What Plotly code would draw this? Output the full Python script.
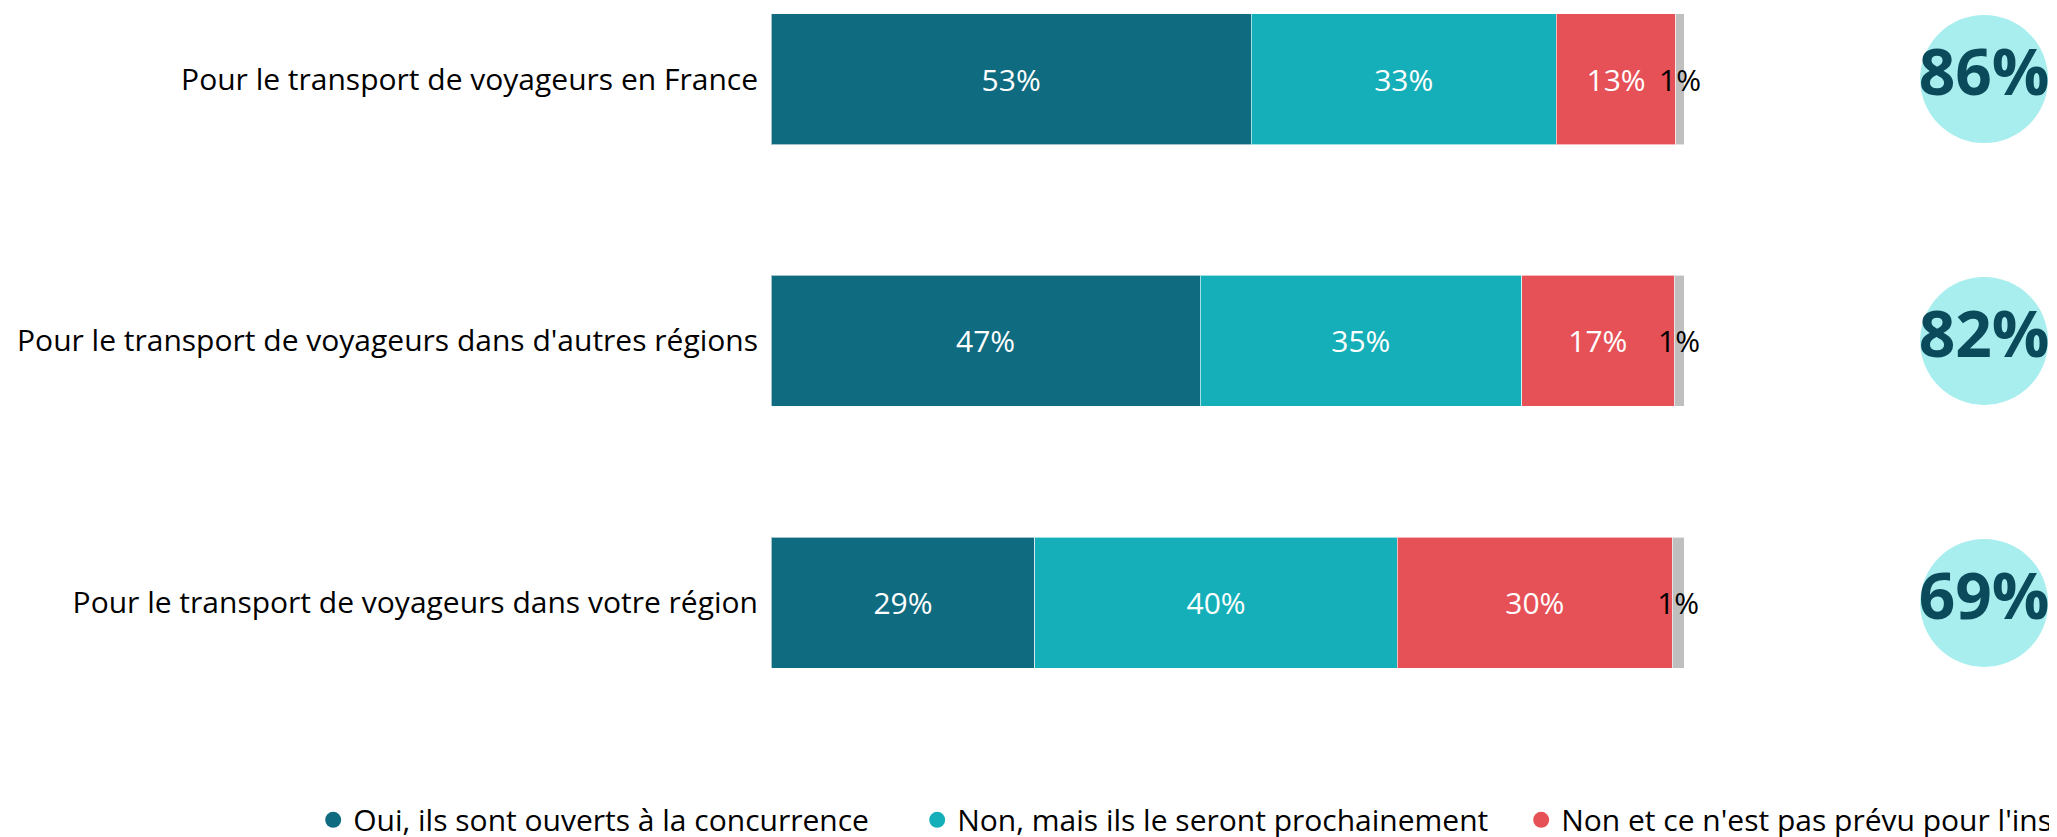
import plotly.graph_objects as go

categories = [
    "Pour le transport de voyageurs en France",
    "Pour le transport de voyageurs dans d'autres régions",
    "Pour le transport de voyageurs dans votre région",
]
series_names = [
    "Oui, ils sont ouverts à la concurrence",
    "Non, mais ils le seront prochainement",
    "Non et ce n'est pas prévu pour l'instant",
    "Ne sait pas",
]
oui = [52.6, 47.0, 28.9]
non_prochainement = [33.4, 35.2, 39.7]
non_pas_prevu = [13.1, 16.7, 30.1]
nsp = [0.9, 1.1, 1.3]
totals = [86, 82, 69]

colors = ["#0F6B80", "#14AFB8", "#E65158", "#BFBFBF"]
text_colors = ["white", "white", "white", "black"]
FONT = "Open Sans"

fig = go.Figure()
for name, vals, col, tcol in zip(series_names, [oui, non_prochainement, non_pas_prevu, nsp], colors, text_colors):
    fig.add_trace(go.Bar(
        y=categories, x=vals, orientation="h", name=name,
        marker=dict(color=col, line=dict(color="rgba(255,255,255,0.6)", width=1)),
        text=[f"{round(v)}%" for v in vals], textposition="inside", insidetextanchor="middle",
        textangle=0, textfont=dict(color=tcol, size=30, family=FONT),
        width=0.5, showlegend=False, hoverinfo="skip", cliponaxis=False,
        xaxis="x", yaxis="y",
    ))

# legend-only entries (circle symbols)
for name, col in zip(series_names[:3], colors[:3]):
    fig.add_trace(go.Scatter(
        x=[None], y=[None], mode="markers", name=name,
        marker=dict(color=col, size=16, symbol="circle"),
        showlegend=True, xaxis="x", yaxis="y",
    ))

fig.add_trace(go.Scatter(
    x=[0] * len(totals), y=categories, mode="markers+text",
    marker=dict(size=128, color="#A8EEEE", line=dict(width=0)),
    text=[f"{t}%" for t in totals], textposition="middle center",
    textfont=dict(size=64, color="#0B4A5A", family=FONT, weight="bold"),
    showlegend=False, hoverinfo="skip", xaxis="x2", yaxis="y", cliponaxis=False,
))

fig.update_layout(
    width=2049, height=829,
    barmode="stack",
    plot_bgcolor="white", paper_bgcolor="white",
    margin=dict(l=763, r=0, t=0, b=97, autoexpand=False),
    font=dict(family=FONT, size=30, color="black"),
    uniformtext=dict(minsize=30, mode="show"),
    xaxis=dict(domain=[0, 0.71], range=[0, 100], visible=False, fixedrange=True),
    xaxis2=dict(domain=[0.8866, 1.0], range=[-1, 1], visible=False, anchor="y"),
    yaxis=dict(
        categoryorder="array", categoryarray=categories,
        range=[2.523, -0.271], showgrid=False, zeroline=False, showline=False,
        ticks="", ticklabelstandoff=12,
        tickfont=dict(size=30, color="black", family=FONT),
    ),
    legend=dict(
        orientation="h", x=-0.356, xanchor="left", y=-0.109, yanchor="middle",
        font=dict(size=30, color="black", family=FONT),
        itemsizing="trace", bgcolor="rgba(0,0,0,0)", traceorder="normal",
        entrywidth=559, entrywidthmode="pixels",
    ),
)

fig.write_html("out.html")
